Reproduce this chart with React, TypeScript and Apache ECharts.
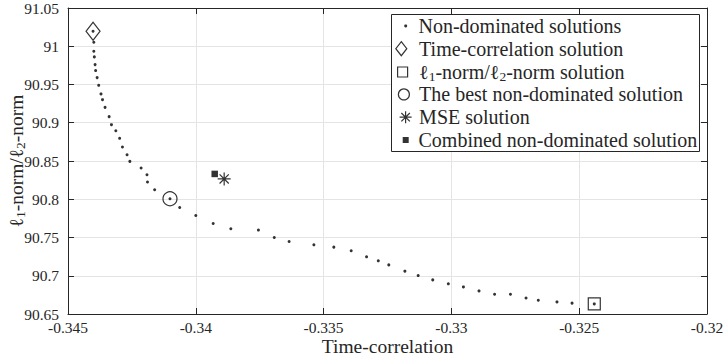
import React, { useEffect, useRef } from 'react';
import * as echarts from 'echarts';

// ---- data ----
const xTickValues = [-0.345, -0.34, -0.335, -0.33, -0.325, -0.32];
const yTickValues = [90.65, 90.7, 90.75, 90.8, 90.85, 90.9, 90.95, 91, 91.05];

const paretoX = [
  -0.34402, -0.34399, -0.34399, -0.34397, -0.34394, -0.34392, -0.34386, -0.3438, -0.34371, -0.34365,
  -0.34355, -0.34339, -0.3433, -0.34313, -0.34298, -0.34287, -0.34269, -0.34258, -0.34214, -0.34191,
  -0.34189, -0.34161, -0.34101, -0.34063, -0.34, -0.33932, -0.33863, -0.33755, -0.33693, -0.33635,
  -0.33538, -0.3346, -0.33392, -0.33332, -0.33286, -0.33245, -0.33182, -0.3313, -0.33073, -0.33012,
  -0.32953, -0.32892, -0.32831, -0.32769, -0.32708, -0.3266, -0.32587, -0.32528, -0.32441,
];
const paretoY = [
  91.0196, 91.0052, 90.9935, 90.9861, 90.976, 90.9682, 90.959, 90.9489, 90.9377, 90.9302,
  90.9201, 90.908, 90.8975, 90.8896, 90.8796, 90.8683, 90.8582, 90.8495, 90.8408, 90.8321,
  90.8225, 90.8124, 90.8006, 90.7892, 90.7788, 90.7683, 90.7614, 90.7597, 90.75, 90.7447,
  90.7404, 90.7374, 90.7326, 90.7247, 90.7195, 90.7142, 90.706, 90.7002, 90.6946, 90.6894,
  90.6854, 90.6802, 90.6759, 90.6759, 90.671, 90.668, 90.6658, 90.6642, 90.6632,
];

const timeCorrSolution = [-0.34402, 91.0196];
const normSolution = [-0.32441, 90.6632];
const bestSolution = [-0.34101, 90.8006];
const mseSolution = [-0.33889, 90.8266];
const combinedSolution = [-0.33926, 90.8331];

const seriesNames = [
  'Non-dominated solutions',
  'Time-correlation solution',
  'ℓ1-norm/ℓ2-norm solution',
  'The best non-dominated solution',
  'MSE solution',
  'Combined non-dominated solution',
];

const xTitle = 'Time-correlation';
const yTitle = 'ℓ1-norm/ℓ2-norm';

// ---- styling ----
const FONT = '"Liberation Serif", "Times New Roman", serif';
const INK = '#262626';
const GRIDC = '#e4e4e4';
const ASTERISK =
  'path://M0,-1L0,1M-1,0L1,0M-0.707,-0.707L0.707,0.707M-0.707,0.707L0.707,-0.707';
const HOLLOW = { color: 'rgba(0,0,0,0)', borderColor: '#000', borderWidth: 1.2 };

const richText = (s: string) =>
  ('{t|' + s.replace(/ℓ(\d)/g, 'ℓ}{s|$1}{t|') + '}').replace(/\{t\|\}/g, '');

const makeRich = (size: number, subSize: number, lh: number, subPad: number) => ({
  t: { fontFamily: FONT, fontSize: size, color: INK, lineHeight: lh },
  s: { fontFamily: FONT, fontSize: subSize, color: INK, lineHeight: lh, padding: [subPad, 0, 0, 0] },
});

export default function App() {
  const ref = useRef<HTMLDivElement>(null);

  useEffect(() => {
    if (!ref.current) return;
    const chart = echarts.init(ref.current, undefined, { renderer: 'svg' });

    const xMin = xTickValues[0];
    const xMax = xTickValues[xTickValues.length - 1];
    const xInt = +(xTickValues[1] - xTickValues[0]).toFixed(6);
    const yMin = yTickValues[0];
    const yMax = yTickValues[yTickValues.length - 1];
    const yInt = +(yTickValues[1] - yTickValues[0]).toFixed(6);

    const fmt = (v: number) => String(+v.toFixed(4));

    const tick = { show: true, inside: true, length: 6, lineStyle: { color: INK, width: 1 } };
    const line = { show: true, onZero: false, lineStyle: { color: INK, width: 1 } };

    // legend rows: icon, size, icon centre x, row centre y
    const rows = [
      { icon: 'circle', w: 3, h: 3, cx: 405.7, cy: 25.9 },
      { icon: 'diamond', w: 11, h: 14, cx: 400.7, cy: 48.7 },
      { icon: 'rect', w: 10, h: 10, cx: 402, cy: 71.5 },
      { icon: 'circle', w: 11, h: 11, cx: 403.3, cy: 94.4 },
      { icon: ASTERISK, w: 12, h: 12, cx: 405, cy: 117.2 },
      { icon: 'rect', w: 6, h: 6, cx: 405.7, cy: 140.0 },
    ];
    const textStart = 418.5;
    const LH = 22;
    const LEG_FS = 20;

    const legends = rows.map((r, i) => {
      const left = r.cx - r.w / 2;
      const pad = Math.max(0, textStart - 5 - (r.cx + r.w / 2));
      const rich: any = makeRich(LEG_FS, 13.5, LH, 9);
      rich.sp = { width: pad, lineHeight: LH };
      return {
        show: true,
        data: [{ name: seriesNames[i], icon: r.icon }],
        left,
        top: r.cy - Math.max(r.h, LH) / 2,
        orient: 'vertical',
        padding: 0,
        itemWidth: r.w,
        itemHeight: r.h,
        itemGap: 0,
        selectedMode: false,
        itemStyle: i === 0 || i === 5 ? { borderWidth: 0 } : { borderWidth: 1.2 },
        formatter: (name: string) => '{sp|}' + richText(name),
        textStyle: { rich, fontFamily: FONT, fontSize: LEG_FS, color: INK, lineHeight: LH },
        z: 5,
      };
    });

    const option: any = {
      animation: false,
      backgroundColor: '#fff',
      grid: {
        left: 68,
        right: 21,
        top: 8,
        bottom: 41,
        containLabel: false,
        outerBoundsMode: 'none',
      },
      xAxis: [
        {
          type: 'value',
          position: 'bottom',
          min: xMin,
          max: xMax,
          interval: xInt,
          axisLine: line,
          axisTick: tick,
          splitLine: { show: true, lineStyle: { color: GRIDC, width: 1 } },
          axisLabel: {
            show: true,
            margin: 5,
            formatter: fmt,
            fontFamily: FONT,
            fontSize: 15.5,
            color: INK,
            showMinLabel: true,
            showMaxLabel: true,
          },
          name: xTitle,
          nameLocation: 'middle',
          nameGap: 22,
          nameMoveOverlap: false,
          nameTextStyle: { fontFamily: FONT, fontSize: 19.5, color: INK },
        },
        {
          type: 'value',
          position: 'top',
          min: xMin,
          max: xMax,
          interval: xInt,
          axisLine: line,
          axisTick: tick,
          splitLine: { show: false },
          axisLabel: { show: false },
        },
      ],
      yAxis: [
        {
          type: 'value',
          position: 'left',
          min: yMin,
          max: yMax,
          interval: yInt,
          axisLine: line,
          axisTick: tick,
          splitLine: { show: true, lineStyle: { color: GRIDC, width: 1 } },
          axisLabel: {
            show: true,
            margin: 9,
            formatter: fmt,
            fontFamily: FONT,
            fontSize: 15.5,
            color: INK,
            showMinLabel: true,
            showMaxLabel: true,
          },
          name: richText(yTitle),
          nameLocation: 'middle',
          nameRotate: 90,
          nameGap: 41,
          nameMoveOverlap: false,
          nameTextStyle: { rich: makeRich(19.5, 13.5, LH, 9), fontFamily: FONT, fontSize: 19.5, color: INK },
        },
        {
          type: 'value',
          position: 'right',
          min: yMin,
          max: yMax,
          interval: yInt,
          axisLine: line,
          axisTick: tick,
          splitLine: { show: false },
          axisLabel: { show: false },
        },
      ],
      legend: legends,
      graphic: [
        {
          type: 'rect',
          z: 3,
          shape: { x: 391.5, y: 14.5, width: 308, height: 137 },
          style: { fill: '#fff', stroke: INK, lineWidth: 1 },
          silent: true,
        },
      ],
      series: [
        {
          name: seriesNames[0],
          type: 'scatter',
          symbol: 'circle',
          symbolSize: 3,
          itemStyle: { color: '#000' },
          data: paretoX.map((x, i) => [x, paretoY[i]]),
          z: 2,
        },
        {
          name: seriesNames[1],
          type: 'scatter',
          symbol: 'diamond',
          symbolSize: [14, 18],
          itemStyle: HOLLOW,
          data: [timeCorrSolution],
          z: 3,
        },
        {
          name: seriesNames[2],
          type: 'scatter',
          symbol: 'rect',
          symbolSize: 12,
          itemStyle: HOLLOW,
          data: [normSolution],
          z: 3,
        },
        {
          name: seriesNames[3],
          type: 'scatter',
          symbol: 'circle',
          symbolSize: 14,
          itemStyle: HOLLOW,
          data: [bestSolution],
          z: 3,
        },
        {
          name: seriesNames[4],
          type: 'scatter',
          symbol: ASTERISK,
          symbolSize: 13,
          itemStyle: HOLLOW,
          data: [mseSolution],
          z: 3,
        },
        {
          name: seriesNames[5],
          type: 'scatter',
          symbol: 'rect',
          symbolSize: 6.5,
          itemStyle: { color: '#000' },
          data: [combinedSolution],
          z: 3,
        },
      ],
    };

    chart.setOption(option);
    return () => chart.dispose();
  }, []);

  return (
    <div
      ref={ref}
      style={{ position: 'absolute', left: 0, top: 0, width: 728, height: 355, background: '#fff' }}
    />
  );
}
